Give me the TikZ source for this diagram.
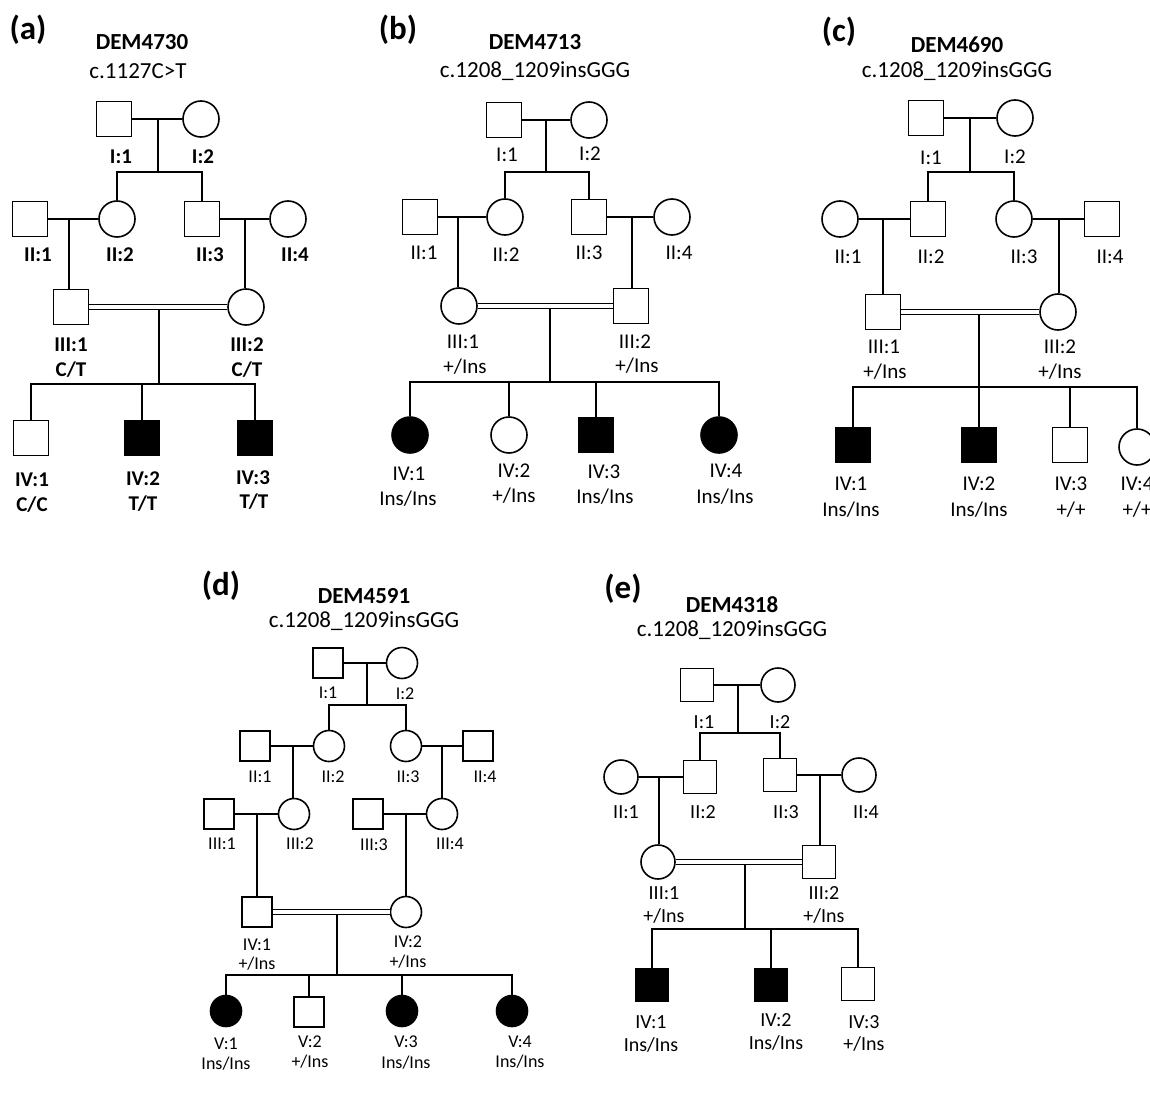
\documentclass[tikz,border=0pt]{standalone}
\usepackage{fontspec}
\setmainfont{Carlito}
\usetikzlibrary{calc}
\tikzset{
  male/.style={draw, rectangle, minimum size=#1, inner sep=0pt},
  male/.default=35pt,
  female/.style={draw, circle, minimum size=#1, inner sep=0pt},
  female/.default=36pt,
  aff/.style={fill=black},
  consang/.style={double, double distance=3.2pt},
  lA/.style={inner sep=0pt, font=\fontsize{21}{21}\selectfont\bfseries, text height=13.5pt, text depth=0pt},
  lB/.style={inner sep=0pt, font=\fontsize{21}{21}\selectfont, text height=13.5pt, text depth=0pt},
  lD/.style={inner sep=0pt, font=\fontsize{18}{18}\selectfont, text height=11.6pt, text depth=0pt},
  lE/.style={inner sep=0pt, font=\fontsize{20}{20}\selectfont, text height=12.9pt, text depth=0pt},
  ttl/.style={inner sep=0pt, font=\fontsize{23}{23}\selectfont\bfseries, text height=14.8pt, text depth=0pt},
  mut/.style={inner sep=0pt, font=\fontsize{23}{23}\selectfont, text height=14.8pt, text depth=0pt},
  pan/.style={inner sep=0pt, font=\fontsize{33}{33}\selectfont\bfseries},
}
\begin{document}
\begin{tikzpicture}[x=1pt, y=-1pt, line width=1.6pt]
\useasboundingbox (0,0) rectangle (1150,1102);
\clip (0,0) rectangle (1150,1102);
\fill[white] (0,0) rectangle (1150,1102);

% ================= Panel (a) =================
\node[pan] (aTag) at (28,30) {(a)};
\node[ttl] (aId) at (142,42) {DEM4730};
\node[mut] (aMut) at (138,71) {c.1127C>T};
\node[male] (aI1) at (114,119) {};
\node[female] (aI2) at (201,119) {};
\draw (aI1) -- (aI2);
\coordinate (aM1) at (158,119);
\coordinate (aS1) at (158,172);
\draw (aM1) -- (aS1);
\node[male] (aII1) at (30,219) {};
\node[female] (aII2) at (117,219) {};
\node[male] (aII3) at (202,219) {};
\node[female] (aII4) at (288,219) {};
\draw (aII2.north) |- (aS1) -| (aII3.north);
\draw (aII1) -- (aII2);
\draw (aII3) -- (aII4);
\coordinate (aM2) at (69,219);
\coordinate (aM3) at (245,219);
\node[male] (aIII1) at (71,307) {};
\node[female] (aIII2) at (246,307) {};
\draw (aM2) -- (aM2 |- aIII1.north);
\draw (aM3) -- (aM3 |- aIII2.north);
\draw[consang] (aIII1) -- (aIII2);
\coordinate (aM4) at (159,309.4);
\coordinate (aS4) at (159,384);
\draw (aM4) -- (aS4);
\node[male] (aIV1) at (31,438) {};
\node[male,aff] (aIV2) at (142,438) {};
\node[male,aff] (aIV3) at (255,438) {};
\draw (aIV1.north) |- (aS4) -| (aIV3.north);
\draw (aIV2.north) -- (aIV2.north |- aS4);
\node[lA] (aLI1) at (121,157) {I:1};
\node[lA] (aLI2) at (203,157) {I:2};
\node[lA] (aLII1) at (38,255) {II:1};
\node[lA] (aLII2) at (120,255) {II:2};
\node[lA] (aLII3) at (210,255) {II:3};
\node[lA] (aLII4) at (295,255) {II:4};
\node[lA] (aLIII1) at (71,345) {III:1};
\node[lA] (aGIII1) at (71,370) {C/T};
\node[lA] (aLIII2) at (247,345) {III:2};
\node[lA] (aGIII2) at (247,370) {C/T};
\node[lA] (aLIV1) at (32,480) {IV:1};
\node[lA] (aGIV1) at (32,505) {C/C};
\node[lA] (aLIV2) at (143,479) {IV:2};
\node[lA] (aGIV2) at (143,504) {T/T};
\node[lA] (aLIV3) at (253,478) {IV:3};
\node[lA] (aGIV3) at (254,502) {T/T};

% ================= Panel (b) =================
\node[pan] (bTag) at (398,30) {(b)};
\node[ttl] (bId) at (535,42) {DEM4713};
\node[mut] (bMut) at (535,70) {c.1208\_1209insGGG};
\node[male] (bI1) at (504,120) {};
\node[female] (bI2) at (589,120) {};
\draw (bI1) -- (bI2);
\coordinate (bM1) at (546,120);
\coordinate (bS1) at (546,172);
\draw (bM1) -- (bS1);
\node[male] (bII1) at (420,217) {};
\node[female] (bII2) at (505,217) {};
\node[male] (bII3) at (589,217) {};
\node[female] (bII4) at (672,217) {};
\draw (bII2.north) |- (bS1) -| (bII3.north);
\draw (bII1) -- (bII2);
\draw (bII3) -- (bII4);
\coordinate (bM2) at (458,217);
\coordinate (bM3) at (632,217);
\node[female] (bIII1) at (459,306) {};
\node[male] (bIII2) at (631,306) {};
\draw (bM2) -- (bM2 |- bIII1.north);
\draw (bM3) -- (bM3 |- bIII2.north);
\draw[consang] (bIII1) -- (bIII2);
\coordinate (bM4) at (550,308.4);
\coordinate (bS4) at (550,382);
\draw (bM4) -- (bS4);
\node[female,aff] (bIV1) at (410,435) {};
\node[female] (bIV2) at (509,435) {};
\node[male,aff] (bIV3) at (596,435) {};
\node[female,aff] (bIV4) at (719,435) {};
\draw (bIV1.north) |- (bS4) -| (bIV4.north);
\draw (bIV2.north) -- (bIV2.north |- bS4);
\draw (bIV3.north) -- (bIV3.north |- bS4);
\node[lB] (bLI1) at (507,155) {I:1};
\node[lB] (bLI2) at (590,154) {I:2};
\node[lB] (bLII1) at (424,253) {II:1};
\node[lB] (bLII2) at (506,255) {II:2};
\node[lB] (bLII3) at (589,253) {II:3};
\node[lB] (bLII4) at (679,253) {II:4};
\node[lB] (bLIII1) at (463,342) {III:1};
\node[lB] (bGIII1) at (465,367) {+/Ins};
\node[lB] (bLIII2) at (635,342) {III:2};
\node[lB] (bGIII2) at (637,366) {+/Ins};
\node[lB] (bLIV1) at (409,474) {IV:1};
\node[lB] (bGIV1) at (408,499) {Ins/Ins};
\node[lB] (bLIV2) at (514,471) {IV:2};
\node[lB] (bGIV2) at (514,496) {+/Ins};
\node[lB] (bLIV3) at (604,472) {IV:3};
\node[lB] (bGIV3) at (605,497) {Ins/Ins};
\node[lB] (bLIV4) at (726,471) {IV:4};
\node[lB] (bGIV4) at (725,497) {Ins/Ins};

% ================= Panel (c) =================
\node[pan] (cTag) at (839,32) {(c)};
\node[ttl] (cId) at (957,45) {DEM4690};
\node[mut] (cMut) at (957,70) {c.1208\_1209insGGG};
\node[male] (cI1) at (926,118) {};
\node[female] (cI2) at (1015,118) {};
\draw (cI1) -- (cI2);
\coordinate (cM1) at (970,118);
\coordinate (cS1) at (970,172);
\draw (cM1) -- (cS1);
\node[female] (cII1) at (840,219) {};
\node[male] (cII2) at (928,219) {};
\node[female] (cII3) at (1014,219) {};
\node[male] (cII4) at (1102,219) {};
\draw (cII2.north) |- (cS1) -| (cII3.north);
\draw (cII1) -- (cII2);
\draw (cII3) -- (cII4);
\coordinate (cM2) at (883,219);
\coordinate (cM3) at (1059,219);
\node[male] (cIII1) at (883,312) {};
\node[female] (cIII2) at (1058,312) {};
\draw (cM2) -- (cM2 |- cIII1.north);
\draw (cM3) -- (cM3 |- cIII2.north);
\draw[consang] (cIII1) -- (cIII2);
\coordinate (cM4) at (979,314.4);
\coordinate (cS4) at (979,387);
\draw (cM4) -- (cS4);
\node[male,aff] (cIV1) at (853,445) {};
\node[male,aff] (cIV2) at (979,445) {};
\node[male] (cIV3) at (1070,445) {};
\node[female] (cIV4) at (1137,447) {};
\draw (cIV1.north) |- (cS4) -| (cIV4.north);
\draw (cIV2.north) -- (cIV2.north |- cS4);
\draw (cIV3.north) -- (cIV3.north |- cS4);
\node[lB] (cLI1) at (931,158) {I:1};
\node[lB] (cLI2) at (1015,157) {I:2};
\node[lB] (cLII1) at (848,257) {II:1};
\node[lB] (cLII2) at (931,257) {II:2};
\node[lB] (cLII3) at (1024,257) {II:3};
\node[lB] (cLII4) at (1110,257) {II:4};
\node[lB] (cLIII1) at (884,347) {III:1};
\node[lB] (cGIII1) at (885,372) {+/Ins};
\node[lB] (cLIII2) at (1060,347) {III:2};
\node[lB] (cGIII2) at (1060,372) {+/Ins};
\node[lB] (cLIV1) at (851,484) {IV:1};
\node[lB] (cGIV1) at (851,510) {Ins/Ins};
\node[lB] (cLIV2) at (979,484) {IV:2};
\node[lB] (cGIV2) at (979,510) {Ins/Ins};
\node[lB] (cLIV3) at (1071,484) {IV:3};
\node[lB] (cGIV3) at (1071,510) {+/+};
\node[lB] (cLIV4) at (1137,484) {IV:4};
\node[lB] (cGIV4) at (1137,510) {+/+};

% ================= Panel (d) =================
\node[pan] (dTag) at (221,586) {(d)};
\node[ttl] (dId) at (364,596) {DEM4591};
\node[mut] (dMut) at (364,620) {c.1208\_1209insGGG};
\node[male=30pt] (dI1) at (328,663) {};
\node[female=31pt] (dI2) at (402,663) {};
\draw (dI1) -- (dI2);
\coordinate (dM1) at (367,663);
\coordinate (dS1) at (367,705);
\draw (dM1) -- (dS1);
\node[male=30pt] (dII1) at (255,746) {};
\node[female=31pt] (dII2) at (329,746) {};
\node[female=31pt] (dII3) at (406,746) {};
\node[male=30pt] (dII4) at (478,746) {};
\draw (dII2.north) |- (dS1) -| (dII3.north);
\draw (dII1) -- (dII2);
\draw (dII3) -- (dII4);
\coordinate (dM2) at (293,746);
\coordinate (dM3) at (442,746);
\node[male=30pt] (dIII1) at (219,814) {};
\node[female=31pt] (dIII2) at (294,814) {};
\node[male=30pt] (dIII3) at (368,814) {};
\node[female=31pt] (dIII4) at (442,814) {};
\draw (dM2) -- (dM2 |- dIII2.north);
\draw (dM3) -- (dM3 |- dIII4.north);
\draw (dIII1) -- (dIII2);
\draw (dIII3) -- (dIII4);
\coordinate (dM5) at (257,814);
\coordinate (dM6) at (406,814);
\node[male=30pt] (dIV1) at (257,912) {};
\node[female=31pt] (dIV2) at (406,912) {};
\draw (dM5) -- (dM5 |- dIV1.north);
\draw (dM6) -- (dM6 |- dIV2.north);
\draw[consang] (dIV1) -- (dIV2);
\coordinate (dM7) at (337,914.4);
\coordinate (dS7) at (337,975);
\draw (dM7) -- (dS7);
\node[female=31pt,aff] (dV1) at (226,1011) {};
\node[male=30pt] (dV2) at (309,1012) {};
\node[female=31pt,aff] (dV3) at (402,1011) {};
\node[female=31pt,aff] (dV4) at (512,1011) {};
\draw (dV1.north) |- (dS7) -| (dV4.north);
\draw (dV2.north) -- (dV2.north |- dS7);
\draw (dV3.north) -- (dV3.north |- dS7);
\node[lD] (dLI1) at (328,693) {I:1};
\node[lD] (dLI2) at (405,694) {I:2};
\node[lD] (dLII1) at (260,777) {II:1};
\node[lD] (dLII2) at (333,777) {II:2};
\node[lD] (dLII3) at (408,777) {II:3};
\node[lD] (dLII4) at (485,777) {II:4};
\node[lD] (dLIII1) at (222,844) {III:1};
\node[lD] (dLIII2) at (300,844) {III:2};
\node[lD] (dLIII3) at (374,845) {III:3};
\node[lD] (dLIII4) at (450,844) {III:4};
\node[lD] (dLIV1) at (257,945) {IV:1};
\node[lD] (dGIV1) at (257,964) {+/Ins};
\node[lD] (dLIV2) at (408,942) {IV:2};
\node[lD] (dGIV2) at (408,962) {+/Ins};
\node[lD] (dLV1) at (226,1044) {V:1};
\node[lD] (dGV1) at (226,1064) {Ins/Ins};
\node[lD] (dLV2) at (310,1042) {V:2};
\node[lD] (dGV2) at (310,1062) {+/Ins};
\node[lD] (dLV3) at (406,1042) {V:3};
\node[lD] (dGV3) at (406,1063) {Ins/Ins};
\node[lD] (dLV4) at (520,1042) {V:4};
\node[lD] (dGV4) at (520,1062) {Ins/Ins};

% ================= Panel (e) =================
\node[pan] (eTag) at (623,589) {(e)};
\node[ttl] (eId) at (732,605) {DEM4318};
\node[mut] (eMut) at (732,629) {c.1208\_1209insGGG};
\node[male=33pt] (eI1) at (697,685) {};
\node[female=34pt] (eI2) at (778,685) {};
\draw (eI1) -- (eI2);
\coordinate (eM1) at (738,685);
\coordinate (eS1) at (738,733);
\draw (eM1) -- (eS1);
\node[female=34pt] (eII1) at (621,777) {};
\node[male=33pt] (eII2) at (700,777) {};
\node[male=33pt] (eII3) at (780,775) {};
\node[female=34pt] (eII4) at (859,775) {};
\draw (eII2.north) |- (eS1) -| (eII3.north);
\draw (eII1) -- (eII2);
\draw (eII3) -- (eII4);
\coordinate (eM2) at (659,777);
\coordinate (eM3) at (820,775);
\node[female=34pt] (eIII1) at (658,862) {};
\node[male=33pt] (eIII2) at (819,862) {};
\draw (eM2) -- (eM2 |- eIII1.north);
\draw (eM3) -- (eM3 |- eIII2.north);
\draw[consang] (eIII1) -- (eIII2);
\coordinate (eM4) at (745,864.4);
\coordinate (eS4) at (745,929);
\draw (eM4) -- (eS4);
\node[male=33pt,aff] (eIV1) at (652,985) {};
\node[male=33pt,aff] (eIV2) at (771,985) {};
\node[male=33pt] (eIV3) at (858,984) {};
\draw (eIV1.north) |- (eS4) -| (eIV3.north);
\draw (eIV2.north) -- (eIV2.north |- eS4);
\node[lE] (eLI1) at (704,722) {I:1};
\node[lE] (eLI2) at (780,722) {I:2};
\node[lE] (eLII1) at (626,812) {II:1};
\node[lE] (eLII2) at (703,812) {II:2};
\node[lE] (eLII3) at (786,812) {II:3};
\node[lE] (eLII4) at (866,812) {II:4};
\node[lE] (eLIII1) at (664,893) {III:1};
\node[lE] (eGIII1) at (664,916) {+/Ins};
\node[lE] (eLIII2) at (824,893) {III:2};
\node[lE] (eGIII2) at (824,916) {+/Ins};
\node[lE] (eLIV1) at (651,1022) {IV:1};
\node[lE] (eGIV1) at (651,1045) {Ins/Ins};
\node[lE] (eLIV2) at (776,1020) {IV:2};
\node[lE] (eGIV2) at (776,1043) {Ins/Ins};
\node[lE] (eLIV3) at (864,1022) {IV:3};
\node[lE] (eGIV3) at (864,1044) {+/Ins};
\end{tikzpicture}
\end{document}
